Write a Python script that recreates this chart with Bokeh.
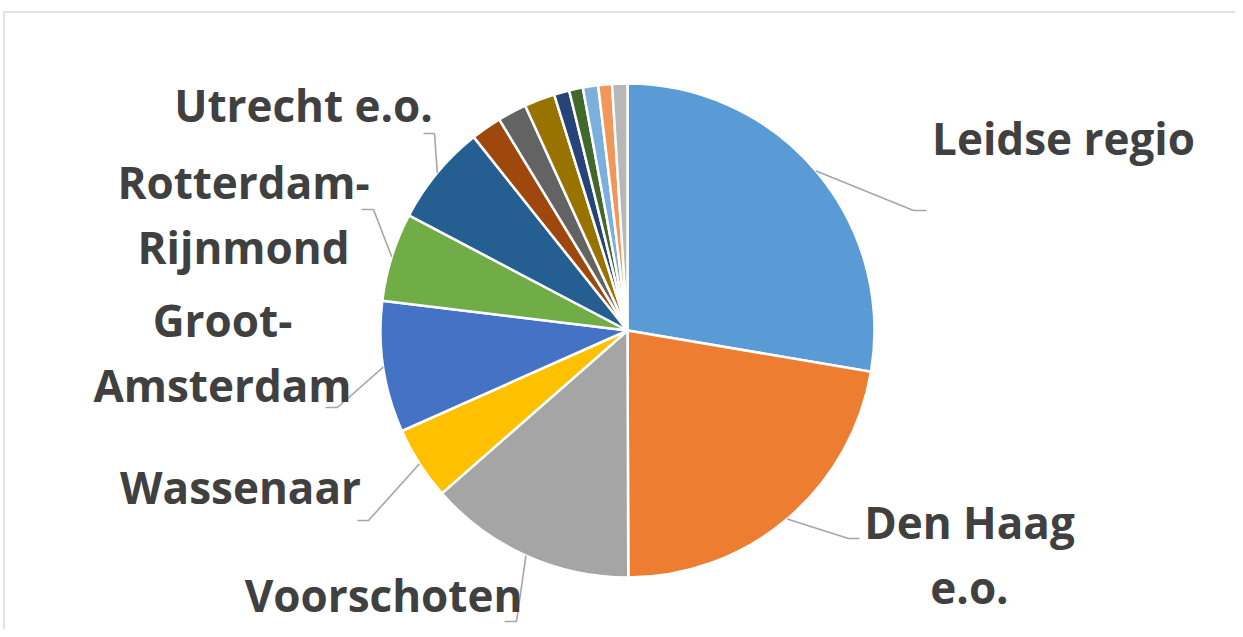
import math
from bokeh.plotting import figure
from bokeh.models import Range1d, ColumnDataSource
from bokeh.core.properties import value
from bokeh.embed import file_html
from bokeh.resources import INLINE

# ---- data ----
regions = ["Leidse regio", "Den Haag e.o.", "Voorschoten", "Wassenaar",
           "Groot-Amsterdam", "Rotterdam-Rijnmond", "Utrecht e.o.",
           "Overig 1", "Overig 2", "Overig 3", "Overig 4", "Overig 5",
           "Overig 6", "Overig 7", "Overig 8"]
shares = [27.7, 22.3, 13.6, 4.8, 8.6, 5.8, 6.6,
          2.0, 1.9, 2.0, 1.0, 0.9, 1.0, 0.9, 1.0]
colors = ["#5B9BD5", "#ED7D31", "#A5A5A5", "#FFC000", "#4472C4", "#70AD47",
          "#255E91", "#9E480E", "#636363", "#997300", "#264478", "#43682B",
          "#7CAFDD", "#F1975A", "#B7B7B7"]

# label lines (text) for the labelled slices
label_lines = {
    "Leidse regio": ["Leidse regio"],
    "Den Haag e.o.": ["Den Haag", "e.o."],
    "Voorschoten": ["Voorschoten"],
    "Wassenaar": ["Wassenaar"],
    "Groot-Amsterdam": ["Groot-", "Amsterdam"],
    "Rotterdam-Rijnmond": ["Rotterdam-", "Rijnmond"],
    "Utrecht e.o.": ["Utrecht e.o."],
}

# ---- layout (picture pixel coordinates) ----
W, H = 1235, 629
def Y(yimg):
    return H - yimg

CX, CY, R = 627, Y(330), 247

label_pos = {  # centre x, first baseline (image y)
    "Leidse regio": (1063, 137),
    "Den Haag e.o.": (969, 521),
    "Voorschoten": (383, 594),
    "Wassenaar": (240, 486),
    "Groot-Amsterdam": (222, 319),
    "Rotterdam-Rijnmond": (243, 181),
    "Utrecht e.o.": (303, 104),
}
line_gap = 65
leader_elbow = {  # elbow point and end point (image coords)
    "Leidse regio": ((913, 210), (926, 210)),
    "Den Haag e.o.": ((848, 538), (859, 538)),
    "Voorschoten": ((516, 621), (504, 621)),
    "Wassenaar": ((368, 520), (357, 520)),
    "Groot-Amsterdam": ((337, 407), (325, 407)),
    "Rotterdam-Rijnmond": ((373, 209), (361, 209)),
    "Utrecht e.o.": ((434, 133), (423, 133)),
}

p = figure(width=W, height=H, output_backend="svg", toolbar_location=None,
           x_range=Range1d(0, W), y_range=Range1d(0, H), min_border=0)
p.axis.visible = False
p.grid.visible = False
p.outline_line_color = None
p.background_fill_color = "white"
p.border_fill_color = "white"

# chart-area border
p.line([3.5, 3.5, W], [0, Y(11.5), Y(11.5)], line_color="#D9D9D9", line_width=1.5)

total = sum(shares)
starts, ends, mids = [], [], []
cum = 0.0
for s in shares:
    a_hi = math.pi / 2 - 2 * math.pi * cum / total
    cum += s
    a_lo = math.pi / 2 - 2 * math.pi * cum / total
    starts.append(a_lo)
    ends.append(a_hi)
    mids.append((a_lo + a_hi) / 2)

src = ColumnDataSource(dict(x=[CX] * len(shares), y=[CY] * len(shares),
                            start=starts, end=ends, color=colors, region=regions))
p.wedge(x="x", y="y", radius=R, start_angle="start", end_angle="end",
        direction="anticlock", fill_color="color", line_color="white",
        line_width=2.5, source=src)

tx, ty, tt = [], [], []
for i, name in enumerate(regions):
    if name not in label_lines:
        continue
    m = mids[i]
    sx, sy = CX + R * math.cos(m), CY + R * math.sin(m)
    (ex, ey), (fx, fy) = leader_elbow[name]
    p.line([sx, ex, fx], [sy, Y(ey), Y(fy)], line_color="#A6A6A6", line_width=1.6)
    cx, by = label_pos[name]
    for k, ln in enumerate(label_lines[name]):
        tx.append(cx)
        ty.append(Y(by + k * line_gap))
        tt.append(ln)

p.text(x=tx, y=ty, text=tt, text_font=value("Open Sans"), text_font_style="bold",
       text_font_size="44px", text_color="#404040", text_align="center",
       text_baseline="alphabetic")

open("out.html", "w").write(file_html(p, INLINE))
